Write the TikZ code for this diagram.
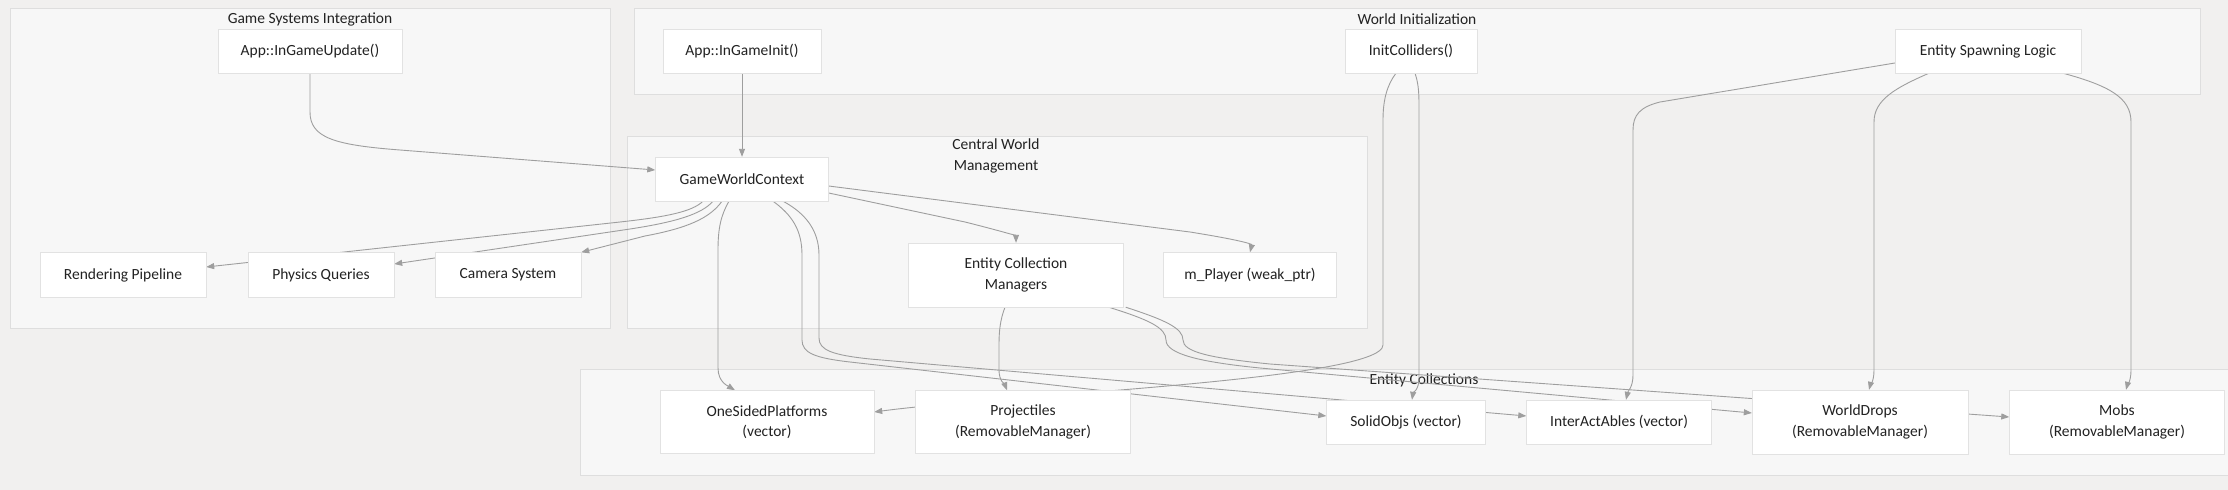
\documentclass[tikz,border=0pt]{standalone}
\usepackage{fontspec}
\setmainfont{Carlito}
\usetikzlibrary{arrows.meta}

\definecolor{bgcol}{RGB}{241,240,239}
\definecolor{grpfill}{RGB}{247,247,247}
\definecolor{grpline}{RGB}{222,222,222}
\definecolor{nodeline}{RGB}{226,226,226}
\definecolor{linkcol}{RGB}{158,158,158}
\definecolor{txt}{RGB}{34,34,34}

\pgfdeclarelayer{bg}
\pgfdeclarelayer{wires}
\pgfsetlayers{bg,wires,main}

\begin{document}
\begin{tikzpicture}[x=1pt,y=-1pt,
	box/.style={shape=rectangle,draw=nodeline,fill=white,text=txt,align=center,inner sep=0pt,minimum height=44pt,font=\fontsize{15.5}{20.5}\selectfont},
	grp/.style={draw=grpline,fill=grpfill,line width=0.8pt},
	grptitle/.style={text=txt,align=center,inner sep=0pt,font=\fontsize{15.5}{20.5}\selectfont},
	link/.style={draw=linkcol,line width=0.9pt,-{Triangle[length=8pt,width=6pt]}}]

	\useasboundingbox (0,0) rectangle (2228,490);

	% groups
	\begin{pgfonlayer}{bg}
	\fill[bgcol] (0,0) rectangle (2228,490);
	\path[grp] (10,8) rectangle (610,328);
	\path[grp] (634,8) rectangle (2200,94);
	\path[grp] (627,136) rectangle (1367,328);
	\path[grp] (580,369) rectangle (2240,475);
	\node[grptitle] (gsi) at (310,19) {Game Systems Integration};
	\node[grptitle] (wi) at (1417,19) {World Initialization};
	\node[grptitle] (cwm) at (996,156) {Central World\\Management};
	\node[grptitle] (ec) at (1424,380) {Entity Collections};
	\end{pgfonlayer}

	% nodes
	\node[box,minimum width=184pt] (upd) at (310,51) {App::InGameUpdate()};
	\node[box,minimum width=158pt] (init) at (742,51) {App::InGameInit()};
	\node[box,minimum width=132pt] (coll) at (1411,51) {InitColliders()};
	\node[box,minimum width=186pt] (spawn) at (1988,51) {Entity Spawning Logic};

	\node[box,minimum width=173pt] (gwc) at (742,179) {GameWorldContext};
	\node[box,minimum width=215pt,minimum height=64pt] (ecm) at (1016,275) {Entity Collection\\Managers};
	\node[box,minimum width=173pt,minimum height=45pt] (player) at (1250,275) {m\_Player (weak\_ptr)};

	\node[box,minimum width=166pt,minimum height=45pt] (render) at (123,275) {Rendering Pipeline};
	\node[box,minimum width=146pt,minimum height=45pt] (phys) at (321,275) {Physics Queries};
	\node[box,minimum width=146pt,minimum height=45pt] (cam) at (508,275) {Camera System};

	\node[box,minimum width=214pt,minimum height=63pt] (osp) at (767,422) {OneSidedPlatforms\\(vector)};
	\node[box,minimum width=215pt,minimum height=63pt] (proj) at (1023,422) {Projectiles\\(RemovableManager)};
	\node[box,minimum width=159pt] (solid) at (1406,422) {SolidObjs (vector)};
	\node[box,minimum width=185pt] (inter) at (1619,422) {InterActAbles (vector)};
	\node[box,minimum width=216pt,minimum height=64pt] (drops) at (1860,422) {WorldDrops\\(RemovableManager)};
	\node[box,minimum width=215pt,minimum height=64pt] (mobs) at (2117,422) {Mobs\\(RemovableManager)};

	% links
	\begin{pgfonlayer}{wires}
	\path[link] (upd.south) -- (310,112) .. controls (310,138) and (335,145) .. (400,150) -- ([yshift=9pt]gwc.west);
	\path[link] (init) -- (gwc);

	\path[link] ([yshift=-14pt]gwc.east) -- (965,222) .. controls (1005,232) and (1016,236) .. (ecm.north);
	\path[link] ([yshift=-7pt]gwc.east) -- (1190,232) .. controls (1240,240) and (1252,244) .. (player.north);
	\path[link] ([xshift=-20pt]gwc.south) .. controls (710,218) and (688,228) .. (645,236) -- (cam.north east);
	\path[link] ([xshift=-29pt]gwc.south) .. controls (702,214) and (676,222) .. (630,229) -- ([yshift=11pt]phys.east);
	\path[link] ([xshift=-39pt]gwc.south) .. controls (692,212) and (665,217) .. (620,222) -- ([yshift=8pt]render.east);
	\path[link] ([xshift=-13pt]gwc.south) .. controls (721,215) and (718,228) .. (718,250) -- (718,368) .. controls (718,382) and (728,386) .. ([xshift=-32pt]osp.north);
	\path[link] ([xshift=31pt]gwc.south) .. controls (792,215) and (802,230) .. (802,255) -- (802,340) .. controls (802,353) and (815,358) .. (850,362) -- ([yshift=6pt]solid.west);
	\path[link] ([xshift=41pt]gwc.south) .. controls (805,213) and (819,230) .. (819,255) -- (819,338) .. controls (819,350) and (832,355) .. (870,359) -- ([yshift=6pt]inter.west);

	\path[link] ([xshift=-11pt]ecm.south) .. controls (1000,320) and (999,332) .. (999,345) -- (999,370) .. controls (999,381) and (1005,385) .. ([xshift=-16pt]proj.north);
	\path[link] ([xshift=-15pt]ecm.south east) .. controls (1150,320) and (1166,328) .. (1166,340) .. controls (1166,354) and (1200,362) .. (1260,368) -- ([yshift=9pt]drops.west);
	\path[link] ([xshift=2pt]ecm.south east) .. controls (1165,320) and (1183,328) .. (1183,340) .. controls (1183,352) and (1210,358) .. (1270,364) -- ([yshift=5pt]mobs.west);

	\path[link] ([xshift=-15pt]coll.south) .. controls (1387,85) and (1383,100) .. (1383,120) -- (1383,345) .. controls (1383,380) and (1000,395) .. ([yshift=10pt]osp.east);
	\path[link] ([xshift=4pt]coll.south) .. controls (1419,85) and (1419,95) .. (1419,110) -- (1419,378) .. controls (1419,390) and (1413,393) .. ([xshift=6pt]solid.north);

	\path[link] ([yshift=-12pt]spawn.west) -- (1660,102) .. controls (1640,107) and (1633,115) .. (1633,130) -- (1633,375) .. controls (1633,387) and (1628,391) .. ([xshift=7pt]inter.north);
	\path[link] ([xshift=-59pt]spawn.south) .. controls (1895,88) and (1874,100) .. (1874,122) -- (1874,370) .. controls (1874,382) and (1870,386) .. ([xshift=9pt]drops.north);
	\path[link] ([xshift=75pt]spawn.south) .. controls (2110,86) and (2131,98) .. (2131,122) -- (2131,370) .. controls (2131,382) and (2127,386) .. ([xshift=9pt]mobs.north);
	\end{pgfonlayer}
\end{tikzpicture}
\end{document}
